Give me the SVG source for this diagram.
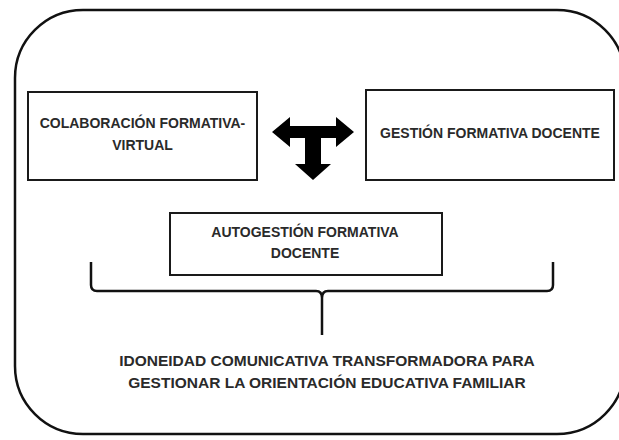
<svg xmlns="http://www.w3.org/2000/svg" width="619" height="440" viewBox="0 0 619 440">
<style>
.box{fill:#fff;stroke:#1a1a1a;stroke-width:2}
.lbl{font-family:"Liberation Sans",Arial,sans-serif;font-weight:bold;font-size:14px;fill:#2a2a2a;text-anchor:middle}
.big{font-size:15.5px}
.ln{fill:none;stroke:#111;stroke-width:2.5;stroke-linejoin:round}
</style>
<rect width="619" height="440" fill="#fff"/>
<g id="frame"><rect x="15" y="10" width="610" height="424" rx="68" ry="68" fill="none" stroke="#111" stroke-width="2.5"/></g>
<g id="n-colaboracion">
<rect class="box" x="28" y="92" width="229" height="88"/>
<text class="lbl" x="142.5" y="128">COLABORACIÓN FORMATIVA-</text>
<text class="lbl" x="142.5" y="150">VIRTUAL</text>
</g>
<g id="n-gestion">
<rect class="box" x="366" y="90" width="248" height="90"/>
<text class="lbl" x="490" y="138">GESTIÓN FORMATIVA DOCENTE</text>
</g>
<g id="n-autogestion">
<rect class="box" x="170" y="213" width="272" height="62"/>
<text class="lbl" x="305" y="237">AUTOGESTIÓN FORMATIVA</text>
<text class="lbl" x="305" y="258">DOCENTE</text>
</g>
<g id="n-idoneidad">
<text class="lbl big" x="327" y="366">IDONEIDAD COMUNICATIVA TRANSFORMADORA PARA</text>
<text class="lbl big" x="327" y="388">GESTIONAR LA ORIENTACIÓN EDUCATIVA FAMILIAR</text>
</g>
<g id="connectors">
<polygon fill="#000" points="272,132 290,117 290,126 336,126 336,117 354,132 336,147 336,138 321,138 321,164 331,164 313,180 295,164 305,164 305,138 290,138 290,147"/>
<path class="ln" d="M91,262 V285 Q91,291 97,291 H316 Q322,291 322,298 V335 M322,298 Q322,291 328,291 H547 Q553,291 553,285 V262"/>
</g>
</svg>
